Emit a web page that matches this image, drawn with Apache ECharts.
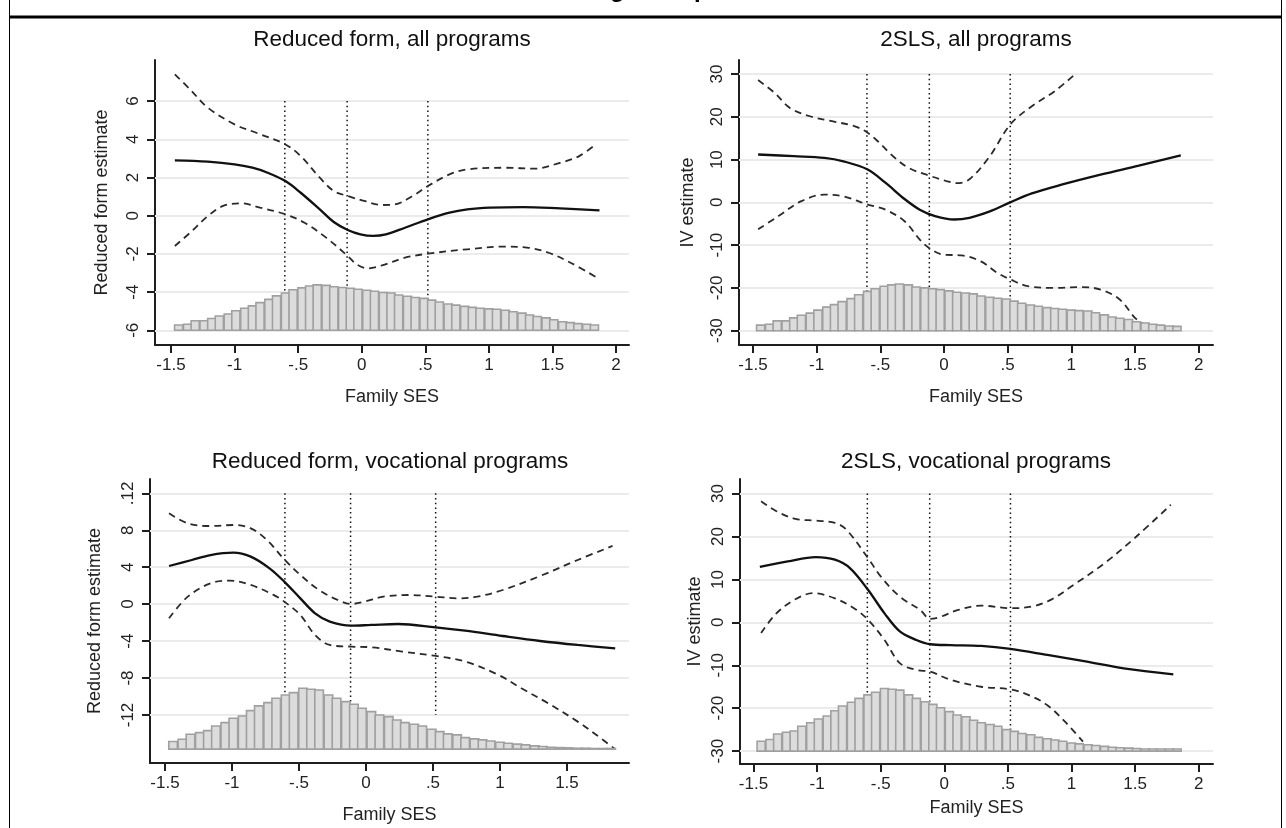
<!DOCTYPE html>
<html><head><meta charset="utf-8">
<script src="https://cdn.jsdelivr.net/npm/echarts@6/dist/echarts.min.js"></script>
<style>html,body{margin:0;padding:0;background:#fff}#c{width:1286px;height:828px}</style>
</head><body><div id="c"></div>
<script>
// ---------------- DATA ----------------
const xTicksFull = [-1.5, -1, -0.5, 0, 0.5, 1, 1.5, 2];
const xTickLabelsFull = ['-1.5', '-1', '-.5', '0', '.5', '1', '1.5', '2'];
const xTicksVocRF = [-1.5, -1, -0.5, 0, 0.5, 1, 1.5];
const xTickLabelsVocRF = ['-1.5', '-1', '-.5', '0', '.5', '1', '1.5'];

const yTicksRFAll = [-6, -4, -2, 0, 2, 4, 6];
const yTickLabelsRFAll = ['-6', '-4', '-2', '0', '2', '4', '6'];
const yTicksIV = [-30, -20, -10, 0, 10, 20, 30];
const yTickLabelsIV = ['-30', '-20', '-10', '0', '10', '20', '30'];
const yTicksRFVoc = [-12, -8, -4, 0, 4, 8, 12];
const yTickLabelsRFVoc = ['-12', '-8', '-4', '0', '4', '8', '.12'];

const sesCutoffs = [-0.605, -0.115, 0.52];

// Reduced form, all programs
const rfAllEst = [[-1.47,2.90],[-1.21,2.83],[-1.0,2.69],[-0.86,2.51],[-0.74,2.25],[-0.60,1.81],[-0.48,1.20],[-0.33,0.33],[-0.22,-0.33],[-0.11,-0.75],[-0.01,-0.98],[0.09,-1.06],[0.19,-0.98],[0.34,-0.63],[0.52,-0.19],[0.69,0.16],[0.83,0.33],[1.01,0.42],[1.27,0.45],[1.56,0.38],[1.87,0.28]];
const rfAllUpper = [[-1.47,7.40],[-1.35,6.61],[-1.21,5.65],[-1.0,4.78],[-0.83,4.34],[-0.60,3.73],[-0.48,3.12],[-0.33,1.99],[-0.22,1.29],[-0.11,1.03],[0.02,0.77],[0.16,0.56],[0.26,0.59],[0.40,1.03],[0.52,1.55],[0.69,2.16],[0.83,2.42],[1.12,2.51],[1.36,2.46],[1.56,2.77],[1.71,3.12],[1.84,3.73]];
const rfAllLower = [[-1.47,-1.59],[-1.35,-0.89],[-1.21,-0.02],[-1.09,0.51],[-0.95,0.65],[-0.80,0.42],[-0.60,0.07],[-0.45,-0.37],[-0.28,-1.15],[-0.11,-2.11],[-0.04,-2.55],[0.05,-2.76],[0.16,-2.60],[0.34,-2.20],[0.52,-1.99],[0.83,-1.76],[1.12,-1.62],[1.30,-1.67],[1.47,-1.94],[1.65,-2.49],[1.85,-3.24]];

// 2SLS, all programs
const ivAllEst = [[-1.46,11.2],[-1.18,10.8],[-0.94,10.4],[-0.79,9.6],[-0.60,7.7],[-0.46,4.6],[-0.31,0.8],[-0.19,-1.7],[-0.07,-3.2],[0.08,-4.0],[0.20,-3.6],[0.36,-2.1],[0.52,0.0],[0.69,2.1],[0.93,4.2],[1.23,6.5],[1.53,8.6],[1.86,11.0]];
const ivAllUpper = [[-1.46,28.6],[-1.33,25.6],[-1.21,22.1],[-1.06,20.2],[-0.88,19.0],[-0.70,17.8],[-0.60,16.3],[-0.52,14.3],[-0.40,10.8],[-0.28,8.1],[-0.12,6.3],[0.02,5.0],[0.10,4.5],[0.20,5.4],[0.36,10.8],[0.52,18.2],[0.69,22.5],[0.87,26.0],[1.03,30.0]];
const ivAllLower = [[-1.46,-6.3],[-1.30,-3.2],[-1.12,0.3],[-0.94,1.8],[-0.79,1.4],[-0.60,-0.5],[-0.46,-1.7],[-0.31,-4.4],[-0.19,-8.7],[-0.12,-10.6],[-0.01,-12.2],[0.14,-12.4],[0.29,-13.8],[0.42,-16.5],[0.52,-18.0],[0.66,-19.6],[0.87,-20.0],[1.08,-19.8],[1.23,-20.4],[1.38,-22.7],[1.50,-27.0],[1.56,-28.3]];

// Reduced form, vocational programs
const rfVocEst = [[-1.47,4.13],[-1.30,4.78],[-1.16,5.32],[-0.99,5.58],[-0.86,5.14],[-0.72,3.88],[-0.61,2.44],[-0.49,0.63],[-0.38,-0.99],[-0.27,-1.89],[-0.11,-2.33],[0.04,-2.25],[0.24,-2.15],[0.52,-2.51],[0.74,-2.87],[1.02,-3.45],[1.30,-3.99],[1.58,-4.42],[1.86,-4.78]];
const rfVocUpper = [[-1.47,9.83],[-1.33,8.75],[-1.16,8.46],[-0.99,8.57],[-0.86,8.21],[-0.74,6.95],[-0.61,4.85],[-0.49,3.16],[-0.35,1.53],[-0.21,0.45],[-0.11,0.02],[-0.01,0.27],[0.13,0.81],[0.32,0.99],[0.52,0.81],[0.69,0.63],[0.83,0.81],[1.02,1.53],[1.30,3.05],[1.58,4.78],[1.84,6.30]];
const rfVocLower = [[-1.47,-1.53],[-1.33,0.81],[-1.16,2.26],[-1.02,2.54],[-0.86,2.08],[-0.69,1.00],[-0.61,0.27],[-0.49,-1.17],[-0.38,-3.34],[-0.27,-4.42],[-0.11,-4.60],[0.04,-4.67],[0.27,-5.14],[0.52,-5.61],[0.74,-6.22],[0.99,-7.67],[1.16,-9.11],[1.36,-10.74],[1.58,-12.72],[1.72,-14.16],[1.86,-15.71]];

// 2SLS, vocational programs
const ivVocEst = [[-1.45,12.9],[-1.23,14.2],[-1.01,15.2],[-0.86,14.6],[-0.74,12.6],[-0.60,7.6],[-0.47,2.1],[-0.35,-2.1],[-0.22,-4.1],[-0.11,-5.1],[0.05,-5.3],[0.29,-5.5],[0.52,-6.2],[0.81,-7.6],[1.11,-9.1],[1.41,-10.7],[1.80,-12.1]];
const ivVocUpper = [[-1.44,28.2],[-1.32,25.9],[-1.17,24.1],[-1.01,23.7],[-0.86,23.2],[-0.77,21.6],[-0.60,15.0],[-0.50,10.7],[-0.35,6.0],[-0.19,2.9],[-0.11,0.8],[-0.04,1.2],[0.11,2.9],[0.29,3.9],[0.52,3.3],[0.69,3.7],[0.84,5.3],[1.02,8.8],[1.26,13.8],[1.51,20.0],[1.78,27.4]];
const ivVocLower = [[-1.44,-2.5],[-1.32,2.1],[-1.17,5.4],[-1.03,6.8],[-0.86,5.6],[-0.71,3.3],[-0.60,0.6],[-0.47,-4.1],[-0.35,-9.5],[-0.22,-11.1],[-0.11,-11.5],[0.05,-13.4],[0.29,-15.0],[0.52,-15.6],[0.66,-16.9],[0.81,-19.3],[0.96,-23.5],[1.09,-27.8]];

// Histogram of family SES (bin centres, bar tops in each panel's y units)
const histCenters = [-1.44,-1.37,-1.31,-1.24,-1.18,-1.12,-1.05,-0.99,-0.92,-0.86,-0.80,-0.73,-0.67,-0.60,-0.54,-0.47,-0.41,-0.35,-0.28,-0.22,-0.15,-0.09,-0.03,0.04,0.10,0.17,0.23,0.29,0.36,0.42,0.49,0.55,0.61,0.68,0.74,0.81,0.87,0.93,1.00,1.06,1.13,1.19,1.26,1.32,1.38,1.45,1.51,1.58,1.64,1.70,1.77,1.83];
const histBinWidth = 0.064;
const histBaseRFAll = -6, histBaseIVAll = -30, histBaseRFVoc = -15.7, histBaseIVVoc = -30;
const histRFAll = [-5.72,-5.68,-5.50,-5.50,-5.38,-5.25,-5.15,-4.98,-4.85,-4.72,-4.55,-4.38,-4.20,-4.05,-3.88,-3.78,-3.68,-3.62,-3.65,-3.72,-3.76,-3.80,-3.85,-3.90,-3.96,-4.02,-4.05,-4.15,-4.22,-4.28,-4.33,-4.42,-4.52,-4.62,-4.68,-4.75,-4.80,-4.85,-4.88,-4.90,-4.95,-5.03,-5.10,-5.20,-5.28,-5.35,-5.45,-5.55,-5.60,-5.65,-5.68,-5.72];
const histIVAll = [-28.7,-28.5,-27.7,-27.7,-27.0,-26.4,-25.9,-25.2,-24.5,-23.9,-23.2,-22.5,-21.6,-20.8,-20.2,-19.6,-19.3,-19.1,-19.3,-19.8,-20.0,-20.2,-20.4,-20.7,-21.0,-21.2,-21.4,-21.9,-22.2,-22.4,-22.6,-23.1,-23.6,-24.0,-24.3,-24.6,-24.8,-25.0,-25.2,-25.3,-25.4,-25.8,-26.3,-26.8,-27.1,-27.4,-27.9,-28.2,-28.5,-28.7,-28.9,-29.0];
const histRFVoc = [-14.88,-14.63,-14.09,-13.91,-13.69,-13.19,-12.83,-12.36,-12.11,-11.53,-11.02,-10.66,-10.19,-9.83,-9.58,-9.11,-9.22,-9.29,-9.83,-10.19,-10.55,-10.84,-11.28,-11.64,-12.00,-12.18,-12.54,-12.83,-13.01,-13.19,-13.55,-13.80,-14.05,-14.16,-14.45,-14.59,-14.70,-14.81,-14.95,-15.06,-15.16,-15.24,-15.35,-15.42,-15.49,-15.53,-15.56,-15.60,-15.60,-15.63,-15.63,-15.63];
const histIVVoc = [-27.7,-27.3,-26.0,-25.6,-25.3,-24.2,-23.4,-22.5,-21.8,-20.6,-19.5,-18.6,-17.7,-16.9,-16.3,-15.4,-15.6,-15.8,-16.9,-17.7,-18.5,-19.1,-19.9,-20.8,-21.6,-22.0,-22.8,-23.4,-23.8,-24.2,-25.0,-25.4,-25.9,-26.2,-26.8,-27.1,-27.4,-27.7,-28.1,-28.3,-28.5,-28.7,-28.9,-29.1,-29.2,-29.3,-29.4,-29.5,-29.5,-29.5,-29.5,-29.5];

const panelTitles = ['Reduced form, all programs', '2SLS, all programs', 'Reduced form, vocational programs', '2SLS, vocational programs'];
const yAxisNames = ['Reduced form estimate', 'IV estimate', 'Reduced form estimate', 'IV estimate'];
const xAxisName = 'Family SES';
const mainTitle = 'College completion';

// ---------------- LAYOUT / STYLE ----------------
const FONT = '"Liberation Sans", Arial, Helvetica, sans-serif';
const INK = '#1e1e1e';
const panels = [
  { grid:{left:155, top:60, width:474, height:285}, xMin:-1.626, xMax:2.102, yMin:-6.77, yMax:8.15,
    xTicks:xTicksFull, xLabels:xTickLabelsFull, yTicks:yTicksRFAll, yLabels:yTickLabelsRFAll,
    est:rfAllEst, up:rfAllUpper, lo:rfAllLower, hist:histRFAll, base:histBaseRFAll,
    titleX:392, titleY:28, yNameGap:44, xNameGap:43 },
  { grid:{left:739, top:60, width:474, height:285}, xMin:-1.61, xMax:2.113, yMin:-33.35, yMax:33.3,
    xTicks:xTicksFull, xLabels:xTickLabelsFull, yTicks:yTicksIV, yLabels:yTickLabelsIV,
    est:ivAllEst, up:ivAllUpper, lo:ivAllLower, hist:histIVAll, base:histBaseIVAll,
    titleX:976, titleY:28, yNameGap:42, xNameGap:43 },
  { grid:{left:150, top:479, width:479, height:284}, xMin:-1.612, xMax:1.963, yMin:-17.2, yMax:13.55,
    xTicks:xTicksVocRF, xLabels:xTickLabelsVocRF, yTicks:yTicksRFVoc, yLabels:yTickLabelsRFVoc,
    est:rfVocEst, up:rfVocUpper, lo:rfVocLower, hist:histRFVoc, base:histBaseRFVoc,
    titleX:390, titleY:450, yNameGap:46, xNameGap:43 },
  { grid:{left:740, top:479, width:473, height:285}, xMin:-1.606, xMax:2.112, yMin:-33.0, yMax:33.4,
    xTicks:xTicksFull, xLabels:xTickLabelsFull, yTicks:yTicksIV, yLabels:yTickLabelsIV,
    est:ivVocEst, up:ivVocUpper, lo:ivVocLower, hist:histIVVoc, base:histBaseIVVoc,
    titleX:976, titleY:450, yNameGap:36, xNameGap:35 }
];

function lookup(ticks, labels) {
  return function (v) {
    for (let i = 0; i < ticks.length; i++) if (Math.abs(ticks[i] - v) < 1e-9) return labels[i];
    return '';
  };
}

const grids = [], xAxes = [], yAxes = [], series = [], titles = [];
panels.forEach((p, i) => {
  grids.push(Object.assign({ containLabel:false, show:false }, p.grid));
  titles.push({ text: panelTitles[i], left: p.titleX, top: p.titleY, textAlign:'center', padding:0,
    textStyle:{ fontFamily:FONT, fontSize:22.5, fontWeight:'normal', color:'#111' } });
  xAxes.push({ type:'value', gridIndex:i, min:p.xMin, max:p.xMax,
    axisLine:{ show:true, onZero:false, lineStyle:{ color:INK, width:2 } },
    axisTick:{ show:true, customValues:p.xTicks, length:8, lineStyle:{ color:INK, width:2 } },
    axisLabel:{ customValues:p.xTicks, formatter:lookup(p.xTicks, p.xLabels), margin:12,
      fontFamily:FONT, fontSize:17, color:'#222' },
    splitLine:{ show:false },
    name:xAxisName, nameLocation:'middle', nameGap:p.xNameGap,
    nameTextStyle:{ fontFamily:FONT, fontSize:18, color:'#222' } });
  yAxes.push({ type:'value', gridIndex:i, min:p.yMin, max:p.yMax,
    axisLine:{ show:true, onZero:false, lineStyle:{ color:INK, width:2 } },
    axisTick:{ show:true, customValues:p.yTicks, length:8, lineStyle:{ color:INK, width:2 } },
    axisLabel:{ customValues:p.yTicks, formatter:lookup(p.yTicks, p.yLabels), rotate:90, margin:13,
      fontFamily:FONT, fontSize:17, color:'#222' },
    splitLine:{ show:false },
    name:yAxisNames[i], nameLocation:'middle', nameGap:p.yNameGap, nameRotate:90,
    nameTextStyle:{ fontFamily:FONT, fontSize:18, color:'#222' } });

  const top = p.yTicks[p.yTicks.length - 1], bot = p.yTicks[0];
  // cutoff dotted lines
  sesCutoffs.forEach(c => {
    series.push({ type:'line', xAxisIndex:i, yAxisIndex:i, data:[[c, top], [c, bot]], symbol:'none', silent:true, z:2,
      lineStyle:{ color:'#111', width:1.5, type:[1.5, 3.2] } });
  });
  // estimate + grid lines (markLine)
  series.push({ type:'line', xAxisIndex:i, yAxisIndex:i, data:p.est, symbol:'none', smooth:0.35, silent:true, z:3,
    lineStyle:{ color:'#111', width:2.3 },
    markLine:{ silent:true, symbol:'none', z:1, label:{ show:false }, animation:false,
      lineStyle:{ color:'#ebebeb', width:2, type:'solid' }, emphasis:{ disabled:true },
      data:p.yTicks.map(v => ({ yAxis:v })) } });
  series.push({ type:'line', xAxisIndex:i, yAxisIndex:i, data:p.up, symbol:'none', smooth:0.35, silent:true, z:3,
    lineStyle:{ color:'#2a2a2a', width:1.8, type:[7, 5] } });
  series.push({ type:'line', xAxisIndex:i, yAxisIndex:i, data:p.lo, symbol:'none', smooth:0.35, silent:true, z:3,
    lineStyle:{ color:'#2a2a2a', width:1.8, type:[7, 5] } });
  // histogram
  const base = p.base;
  series.push({ type:'custom', xAxisIndex:i, yAxisIndex:i, silent:true, z:5,
    data:histCenters.map((c, k) => [c, p.hist[k]]),
    encode:{ x:0, y:1 },
    renderItem:function (params, api) {
      const c = api.value(0), t = api.value(1);
      const a = api.coord([c - histBinWidth / 2, t]);
      const b = api.coord([c + histBinWidth / 2, base]);
      return { type:'rect', shape:{ x:a[0], y:a[1], width:b[0] - a[0], height:b[1] - a[1] },
        style:{ fill:'#dcdcdc', stroke:'#a0a0a0', lineWidth:1.6 } };
    } });
});

const chart = echarts.init(document.getElementById('c'), null, { renderer:'canvas' });
chart.setOption({
  backgroundColor:'#ffffff',
  animation:false,
  title:titles,
  grid:grids, xAxis:xAxes, yAxis:yAxes, series:series,
  graphic:[
    { type:'text', x:662, y:2, silent:true,
      style:{ text:mainTitle, fontFamily:FONT, fontSize:24, fontWeight:'bold', fill:'#000', align:'center', verticalAlign:'bottom' } },
    { type:'line', silent:true, shape:{ x1:9.5, y1:0, x2:9.5, y2:828 }, style:{ stroke:'#000', lineWidth:1 } },
    { type:'line', silent:true, shape:{ x1:1281.5, y1:0, x2:1281.5, y2:828 }, style:{ stroke:'#000', lineWidth:1 } },
    { type:'line', silent:true, shape:{ x1:9, y1:17, x2:1282, y2:17 }, style:{ stroke:'#000', lineWidth:3 } }
  ]
});
</script></body></html>
